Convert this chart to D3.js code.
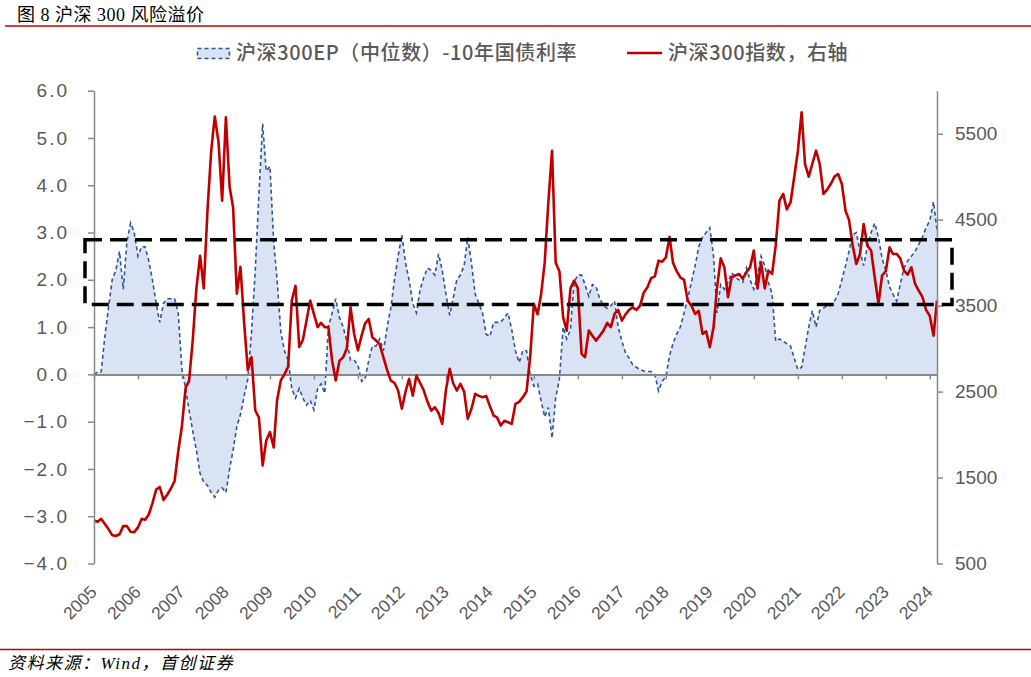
<!DOCTYPE html>
<html>
<head>
<meta charset="utf-8">
<script src="https://cdn.jsdelivr.net/npm/d3@7"></script>
<style>
  body { margin: 0; background: #fff; }
  svg { display: block; }
</style>
</head>
<body>
<div id="chart"></div>
<script>
// monthly values, first day of each month, 2005-01 .. 2024-03
const epSpread = [
  0.0, 0.05, 0.05, 0.8, 1.4, 2.0, 2.2, 2.6, 1.8, 2.8, 3.2, 3.0,
  2.5, 2.7, 2.7, 2.4, 2.0, 1.5, 1.1, 1.5, 1.6, 1.6, 1.6, 1.3,
  0.1, -0.3, -0.75, -1.2, -1.6, -2.1, -2.28, -2.35, -2.5, -2.6, -2.45, -2.4,
  -2.5, -2.0, -1.6, -1.1, -0.85, -0.45, -0.1, 0.9, 2.2, 3.8, 5.3, 4.3,
  4.4, 2.8, 2.0, 0.9, 0.5, 0.3, -0.3, -0.5, -0.3, -0.5, -0.65, -0.55,
  -0.75, -0.3, -0.2, -0.4, 1.0, 1.3, 1.6, 1.2, 1.0, 0.7, 0.3, 0.3,
  0.2, -0.15, -0.1, 0.3, 0.6, 0.6, 0.75, 0.5, 1.0, 1.4, 2.0, 2.5,
  2.95, 2.35, 2.0, 1.5, 1.3, 1.8, 2.05, 2.25, 2.2, 2.1, 2.55, 2.2,
  1.7, 1.25, 1.6, 2.0, 2.1, 2.3, 2.9, 2.35, 1.7, 1.5, 1.3, 0.85,
  0.8, 1.1, 1.1, 1.1, 1.2, 1.3, 0.95, 0.5, 0.25, 0.5, 0.5, 0.0,
  -0.25, -0.2, -0.55, -0.9, -0.7, -1.35, -0.5, -0.1, 1.0, 0.75, 0.95, 1.95,
  2.1, 2.1, 1.9, 1.65, 1.9, 1.85, 1.6, 1.45, 1.4, 1.45, 1.55, 1.0,
  0.7, 0.45, 0.35, 0.2, 0.15, 0.1, 0.07, 0.06, 0.06, 0.0, -0.35, -0.15,
  -0.05, 0.4, 0.65, 0.85, 1.0, 1.3, 1.6, 1.95, 2.3, 2.7, 2.9, 3.0,
  3.1, 2.5, 1.3, 1.9, 1.8, 1.95, 2.15, 2.05, 2.0, 1.95, 2.25, 2.0,
  1.8, 2.1, 2.5, 2.3, 1.95, 1.7, 0.7, 0.75, 0.7, 0.65, 0.6, 0.35,
  0.1, 0.15, 0.55, 1.0, 1.35, 1.0, 1.35, 1.4, 1.45, 1.45, 1.55, 1.7,
  2.0, 2.3, 2.6, 2.95, 3.0, 2.6, 2.3, 2.7, 3.0, 3.2, 2.9, 2.45,
  2.2, 1.85, 1.7, 1.55, 1.9, 2.25, 2.4, 2.5, 2.6, 2.75, 2.9, 3.1,
  3.25, 3.65, 3.06
];

const csi300 = [
  1000, 985, 1020, 960, 900, 830, 820, 840, 935, 935, 870, 865,
  920, 1020, 1010, 1070, 1200, 1360, 1390, 1240, 1300, 1370, 1460, 1800,
  2100, 2550, 2620, 3100, 3700, 4080, 3700, 4600, 5300, 5700, 5400, 4720,
  5690, 4880, 4640, 3640, 3950, 3290, 2750, 2900, 2280, 2200, 1640, 1930,
  2030, 1850, 2400, 2630, 2700, 2790, 3560, 3730, 3020, 3100, 3330, 3560,
  3400, 3250, 3300, 3250, 3250, 2860, 2630, 2860, 2900, 3000, 3480, 3170,
  2980, 3150, 3290, 3345, 3131, 3093, 3050, 2899, 2750, 2628, 2600, 2512,
  2300, 2500, 2647, 2453, 2686, 2600, 2512, 2380, 2279, 2318, 2250, 2124,
  2520, 2764, 2600, 2512, 2589, 2500, 2183, 2300, 2473, 2450, 2434, 2450,
  2330, 2221, 2200, 2105, 2160, 2143, 2124, 2357, 2380, 2434, 2500, 2900,
  3520, 3400, 3620, 4000, 4700, 5300, 4000, 3900, 3364, 3209, 3700, 3791,
  3700, 2938, 2900, 3209, 3150, 3093, 3150, 3209, 3300, 3250, 3403, 3450,
  3326, 3400, 3450, 3480, 3450, 3500, 3650, 3713, 3820, 3840, 4023, 4010,
  4062, 4300, 4000, 3900, 3829, 3800, 3558, 3500, 3403, 3440, 3171, 3200,
  3015, 3250, 3700, 4050, 3950, 3597, 3829, 3850, 3868, 3814, 3890, 3945,
  4140, 3700, 4000, 3700, 3907, 3870, 4200, 4721, 4800, 4620, 4700, 4990,
  5300, 5750, 5150, 5000, 5150, 5302, 5150, 4799, 4850, 4915, 5000, 5031,
  4915, 4600, 4500, 4200, 3985, 4100, 4450, 4200, 4140, 3829, 3520, 3850,
  3900, 4178, 4100, 4101, 4050, 3907, 3860, 3945, 3752, 3674, 3600, 3450,
  3380, 3151, 3558
];

const years = d3.range(2005, 2025);
const leftTicks = d3.range(-4, 7, 1);
const rightTicks = [500, 1500, 2500, 3500, 4500, 5500];
const bandRange = [1.48, 2.85]; // dashed box on the left axis

const titleText = "图 8 沪深 300 风险溢价";
const legendEP = "沪深300EP（中位数）-10年国债利率";
const legendIdx = "沪深300指数，右轴";
const sourceText = "资料来源：Wind，首创证券";

const W = 1031, H = 677;
const plot = { left: 94, right: 937, top: 90.7, bottom: 563.5 };

const dates = epSpread.map((_, i) => new Date(2005, i, 1));
const rows = dates.map((d, i) => ({ date: d, ep: epSpread[i], idx: csi300[i] }));

const svg = d3.select("#chart").append("svg")
  .attr("width", W).attr("height", H);

const x = d3.scaleTime()
  .domain([new Date(2005, 0, 1), new Date(2024, 2, 1)])
  .range([plot.left, plot.right]);
const yL = d3.scaleLinear().domain([-4, 6]).range([plot.bottom, plot.top]);
const yR = d3.scaleLinear().domain([500, 6000]).range([plot.bottom, plot.top]);

const grey = "#898989", labelCol = "#595959";
const blue = "#2f5597", fillBlue = "#dae3f3", red = "#c00000";

// title + rules
svg.append("text").attr("x", 17).attr("y", 21)
  .style("font-family", "'Liberation Serif', 'Noto Sans CJK SC', serif")
  .style("font-size", "18px").style("letter-spacing", "0.5px")
  .attr("fill", "#000").text(titleText);
svg.append("line").attr("x1", 5).attr("x2", W).attr("y1", 26).attr("y2", 26)
  .attr("stroke", red).attr("stroke-width", 1.5);
svg.append("line").attr("x1", 0).attr("x2", W).attr("y1", 649.5).attr("y2", 649.5)
  .attr("stroke", red).attr("stroke-width", 1.5);
svg.append("text").attr("x", 8).attr("y", 669)
  .style("font-family", "'Liberation Serif', 'Noto Sans CJK SC', serif")
  .style("font-style", "italic").style("font-size", "17px").style("letter-spacing", "1.5px")
  .attr("fill", "#000").text(sourceText);

// legend
const lg = svg.append("g").style("font-family", "'Noto Sans CJK SC', sans-serif")
  .style("font-size", "20px").style("font-weight", "500")
  .style("letter-spacing", "0.6px").attr("fill", labelCol);
lg.append("rect").attr("x", 197.5).attr("y", 48.5).attr("width", 32).attr("height", 10)
  .attr("fill", fillBlue).attr("stroke", blue).attr("stroke-width", 1.6)
  .attr("stroke-dasharray", "4,3");
lg.append("text").attr("x", 236).attr("y", 60).text(legendEP);
lg.append("line").attr("x1", 627).attr("x2", 662).attr("y1", 53).attr("y2", 53)
  .attr("stroke", red).attr("stroke-width", 2.5);
lg.append("text").attr("x", 668).attr("y", 60).text(legendIdx);

// area + dashed EP line
svg.append("path").datum(rows)
  .attr("d", d3.area().x(d => x(d.date)).y0(yL(0)).y1(d => yL(d.ep)))
  .attr("fill", fillBlue);
svg.append("path").datum(rows)
  .attr("d", d3.line().x(d => x(d.date)).y(d => yL(d.ep)))
  .attr("fill", "none").attr("stroke", blue).attr("stroke-width", 1.6)
  .attr("stroke-dasharray", "4,3");

// x axis on the zero line
const xAxis = svg.append("g").attr("transform", `translate(0,${yL(0)})`)
  .call(d3.axisBottom(x).tickValues(years.map(y => new Date(y, 0, 1)))
    .tickSize(5).tickSizeOuter(0).tickFormat(""));
xAxis.select(".domain").attr("stroke", grey).attr("stroke-width", 2);
xAxis.selectAll(".tick line").attr("stroke", grey).attr("stroke-width", 1.5);

// year labels below the chart
svg.append("g").selectAll("text").data(years).join("text")
  .attr("transform", d => `translate(${x(new Date(d, 0, 1)) + 4},593) rotate(-45)`)
  .attr("text-anchor", "end")
  .style("font-family", "'Liberation Sans', Arial, sans-serif")
  .style("font-size", "17.5px").attr("fill", labelCol)
  .text(d => d);

// red index line
svg.append("path").datum(rows)
  .attr("d", d3.line().x(d => x(d.date)).y(d => yR(d.idx)))
  .attr("fill", "none").attr("stroke", red).attr("stroke-width", 2.6)
  .attr("stroke-linejoin", "round");

// left axis
const la = svg.append("g").attr("transform", `translate(${plot.left},0)`)
  .call(d3.axisLeft(yL).tickValues(leftTicks).tickFormat(d3.format(".1f"))
    .tickSize(6).tickSizeOuter(0).tickPadding(19));
la.select(".domain").attr("stroke", grey).attr("stroke-width", 1.5);
la.selectAll(".tick line").attr("stroke", grey).attr("stroke-width", 1.5);
la.selectAll(".tick text").attr("fill", labelCol)
  .style("font-family", "'Liberation Sans', Arial, sans-serif")
  .style("font-size", "19px").style("letter-spacing", "2px");

// right axis
const ra = svg.append("g").attr("transform", `translate(${plot.right},0)`)
  .call(d3.axisRight(yR).tickValues(rightTicks).tickFormat(d3.format("d"))
    .tickSize(6).tickSizeOuter(0).tickPadding(12));
ra.select(".domain").attr("stroke", grey).attr("stroke-width", 1.5);
ra.selectAll(".tick line").attr("stroke", grey).attr("stroke-width", 1.5);
ra.selectAll(".tick text").attr("fill", labelCol)
  .style("font-family", "'Liberation Sans', Arial, sans-serif")
  .style("font-size", "19px");

// dashed box marking the band
svg.append("rect")
  .attr("x", plot.left - 9).attr("y", yL(bandRange[1]))
  .attr("width", plot.right - plot.left + 24)
  .attr("height", yL(bandRange[0]) - yL(bandRange[1]))
  .attr("fill", "none").attr("stroke", "#000").attr("stroke-width", 3.5)
  .attr("stroke-dasharray", "17,8");
</script>
</body>
</html>
